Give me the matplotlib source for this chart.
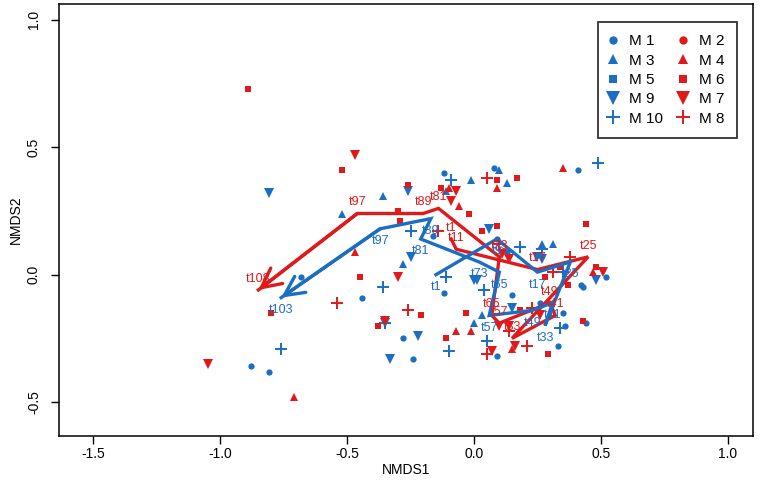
import numpy as np
import matplotlib
matplotlib.use("Agg")
import matplotlib.pyplot as plt
from matplotlib.lines import Line2D

plt.rcParams['font.family'] = ['Liberation Sans', 'DejaVu Sans']

BLUE = "#1B6EC2"
RED = "#E0191B"

# --- site scores per group (NMDS1, NMDS2) ---
m1_x = [-0.68, -0.88, -0.81, -0.44, -0.12, -0.16, -0.28, -0.24, -0.12, 0.08, 0.41, 0.15,
        0.09, 0.33, 0.35, 0.36, 0.44, 0.42, 0.43, 0.52, 0.09, 0.13, 0.26]
m1_y = [-0.01, -0.36, -0.38, -0.09, 0.40, 0.15, -0.25, -0.33, -0.07, 0.42, 0.41, -0.08,
        -0.32, -0.28, -0.15, -0.20, -0.19, -0.04, -0.05, -0.01, 0.14, 0.09, -0.11]

m3_x = [-0.52, -0.36, -0.28, -0.11, -0.01, 0.10, 0.13, 0.27, 0.31, 0.03, 0.00]
m3_y = [0.24, 0.31, 0.04, 0.33, 0.37, 0.41, 0.36, 0.12, 0.12, -0.16, -0.19]

m9_x = [-0.81, -0.26, -0.25, -0.35, -0.22, -0.33, 0.06, 0.00, 0.01, 0.25, 0.27, 0.48, 0.15]
m9_y = [0.32, 0.33, 0.07, -0.19, -0.24, -0.33, 0.18, -0.02, -0.02, 0.07, 0.06, -0.02, -0.13]

m10_x = [-0.76, -0.09, -0.25, -0.36, -0.35, -0.11, -0.10, 0.04, 0.05, 0.18, 0.27, 0.49, 0.34, 0.35]
m10_y = [-0.29, 0.37, 0.17, -0.05, -0.19, -0.01, -0.30, -0.06, -0.26, 0.11, 0.10, 0.44, -0.21, 0.01]

m4_x = [-0.47, -0.71, -0.10, -0.06, 0.09, 0.35, 0.47, -0.07, -0.01, 0.15]
m4_y = [0.09, -0.48, 0.34, 0.27, 0.34, 0.42, 0.01, -0.22, -0.22, -0.29]

m6_x = [-0.89, -0.52, -0.26, -0.13, -0.30, -0.29, -0.45, -0.80, -0.38, -0.21, -0.11, -0.03,
        -0.02, 0.03, 0.09, 0.09, 0.17, 0.44, 0.48, 0.37, 0.28, 0.34, 0.18, 0.29, 0.43]
m6_y = [0.73, 0.41, 0.35, 0.34, 0.25, 0.21, -0.01, -0.15, -0.20, -0.16, -0.25, -0.15,
        0.24, 0.17, 0.19, 0.37, 0.38, 0.20, 0.03, -0.04, -0.01, 0.03, -0.14, -0.31, -0.18]

m7_x = [-0.47, -1.05, -0.30, -0.35, -0.07, -0.09, 0.11, 0.14, 0.51, 0.07, 0.16, 0.10, 0.14, 0.26]
m7_y = [0.47, -0.35, -0.01, -0.18, 0.33, 0.29, 0.08, 0.06, 0.01, -0.30, -0.28, -0.20, -0.20, -0.16]

m8_x = [-0.54, -0.26, -0.14, 0.05, 0.38, 0.31, 0.05, 0.21, 0.23, 0.10, 0.14]
m8_y = [-0.11, -0.14, 0.17, 0.38, 0.07, 0.01, -0.31, -0.28, -0.13, 0.12, -0.22]

# --- group trajectories over time ---
blue_t = ["t1", "t9", "t17", "t25", "t33", "t41", "t49", "t57", "t65", "t73", "t81", "t89", "t97", "t103"]
blue_x = [-0.15, 0.09, 0.25, 0.38, 0.28, 0.31, 0.23, 0.06, 0.10, 0.02, -0.21, -0.17, -0.37, -0.76]
blue_y = [0.00, 0.14, 0.01, 0.05, -0.20, -0.11, -0.14, -0.16, 0.01, 0.05, 0.14, 0.22, 0.18, -0.09]

red_t = ["t1", "t11", "t17", "t25", "t33", "t41", "t49", "t57", "t65", "t73", "t81", "t89", "t97", "t108"]
red_x = [-0.09, -0.07, 0.25, 0.45, 0.15, 0.32, 0.30, 0.10, 0.07, 0.10, -0.14, -0.20, -0.46, -0.85]
red_y = [0.14, 0.10, 0.02, 0.07, -0.25, -0.16, -0.11, -0.19, -0.16, 0.07, 0.26, 0.24, 0.24, -0.06]

fig = plt.figure(figsize=(7.61, 4.91), dpi=100)
ax = fig.add_axes([59 / 761, 55 / 491, 694 / 761, 432.5 / 491])

groups = [
    (m1_x, m1_y, "o", BLUE, 4.5),
    (m3_x, m3_y, "^", BLUE, 6),
    (m9_x, m9_y, "v", BLUE, 7.5),
    (m10_x, m10_y, "+", BLUE, 8),
    (m4_x, m4_y, "^", RED, 6),
    (m6_x, m6_y, "s", RED, 4.5),
    (m7_x, m7_y, "v", RED, 7.5),
    (m8_x, m8_y, "+", RED, 8),
]
for gx, gy, mk, col, ms in groups:
    ax.plot(gx, gy, linestyle="", marker=mk, color=col, ms=ms, mew=1.4 if mk == "+" else 0)

# trajectories with arrow at the end
for px, py, labs, col, off in [(red_x, red_y, red_t, RED, 8), (blue_x, blue_y, blue_t, BLUE, -9)]:
    ax.plot(px, py, color=col, lw=2.4, solid_joinstyle="miter")
    ax.annotate("", xy=(px[-1], py[-1]), xytext=(px[-2], py[-2]),
                arrowprops=dict(arrowstyle="->,head_length=0.7,head_width=0.35",
                                color=col, lw=2.4, shrinkA=0, shrinkB=0, mutation_scale=20))
    for lx, ly, lab in zip(px, py, labs):
        ax.annotate(lab, (lx, ly), xytext=(0, off), textcoords="offset points",
                    ha="center", va="center", color=col, fontsize=9)

ax.set_xlim(-1.636, 1.10)
ax.set_ylim(-0.633, 1.064)
ax.set_xticks([-1.5, -1.0, -0.5, 0.0, 0.5, 1.0])
ax.set_yticks([-0.5, 0.0, 0.5, 1.0])
ax.set_xticklabels(["-1.5", "-1.0", "-0.5", "0.0", "0.5", "1.0"])
ax.set_yticklabels(["-0.5", "0.0", "0.5", "1.0"], rotation=90, va="center")
ax.tick_params(direction="out", length=6, width=1, labelsize=10)
ax.tick_params(axis="x", pad=2)
ax.tick_params(axis="y", pad=7)
for s in ax.spines.values():
    s.set_linewidth(1.1)
ax.set_xlabel("NMDS1", fontsize=10, labelpad=1)
ax.set_ylabel("NMDS2", fontsize=10, labelpad=3)

# legend
leg_items = [("M 1", "o", BLUE, 6), ("M 3", "^", BLUE, 7.5), ("M 5", "s", BLUE, 6),
             ("M 9", "v", BLUE, 9.5), ("M 10", "+", BLUE, 10),
             ("M 2", "o", RED, 6), ("M 4", "^", RED, 7.5), ("M 6", "s", RED, 6),
             ("M 7", "v", RED, 9.5), ("M 8", "+", RED, 10)]
handles = [Line2D([0], [0], linestyle="", marker=mk, color=c, ms=ms,
                  mew=1.4 if mk == "+" else 0) for _, mk, c, ms in leg_items]
leg = ax.legend(handles, [t for t, *_ in leg_items], ncol=2, loc="upper right",
                bbox_to_anchor=(0.977, 0.957), fontsize=11, frameon=True, fancybox=False,
                handlelength=0.3, handletextpad=0.9, columnspacing=1.2,
                labelspacing=0.35, borderpad=0.8, borderaxespad=0)
leg.get_frame().set_edgecolor("black")
leg.get_frame().set_linewidth(1.3)

fig.savefig("out.png", dpi=100, facecolor="white")
